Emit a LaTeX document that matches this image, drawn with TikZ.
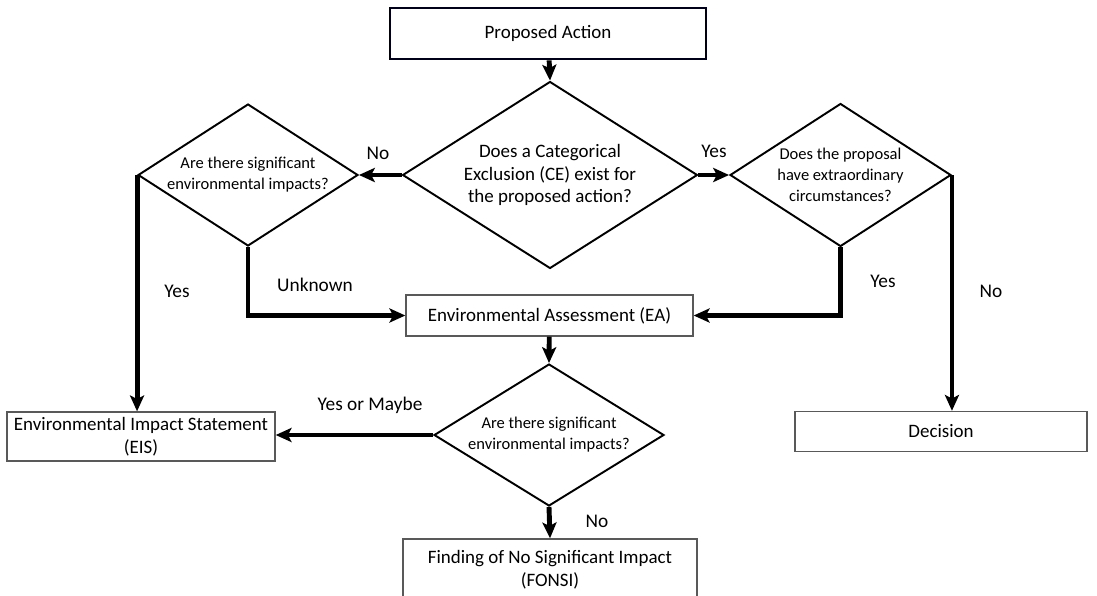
\documentclass[tikz,border=0pt]{standalone}
\usepackage{fontspec}
\setmainfont{Carlito}
\usetikzlibrary{shapes.geometric,arrows.meta}
\begin{document}
\begin{tikzpicture}[x=0.02cm,y=-0.02cm,
  box/.style={draw=black!65, line width=0.8pt, inner sep=0pt, align=center, font=\fontsize{10.8}{13}\selectfont},
  dia/.style={draw, diamond, line width=1.1pt, inner sep=0pt},
  bigtext/.style={align=center, inner sep=0pt, font=\fontsize{10.8}{12.8}\selectfont},
  smalltext/.style={align=center, inner sep=0pt, font=\fontsize{9.4}{12}\selectfont},
  conn/.style={line width=2.8pt, -{Stealth[length=9pt,width=8pt,inset=2pt]}},
  lbl/.style={inner sep=0pt, font=\fontsize{11}{13}\selectfont}]
\clip (0,0) rectangle (1097,595);
\fill[white] (0,0) rectangle (1097,595);

% boxes
\node[box, draw=black!90!blue, line width=1.6pt, minimum width=6.32cm, minimum height=1.02cm] (pa) at (548,33.5) {Proposed Action};
\node[box, minimum width=5.74cm, minimum height=0.82cm] (ea) at (549.5,315.5) {Environmental Assessment (EA)};
\node[box, minimum width=5.36cm, minimum height=0.98cm] (eis) at (141,436.5) {Environmental Impact Statement\\(EIS)};
\node[box, minimum width=5.84cm, minimum height=0.80cm] (dec) at (941,431.5) {Decision};
\node[box, minimum width=5.88cm, minimum height=1.24cm] (fonsi) at (550,570) {Finding of No Significant Impact\\(FONSI)};

% diamonds
\node[dia, minimum width=5.90cm, minimum height=3.74cm] (ce) at (550,175) {};
\node[bigtext] (cet) at (ce.center) {Does a Categorical\\Exclusion (CE) exist for\\the proposed action?};
\node[dia, minimum width=4.40cm, minimum height=2.84cm] (ls) at (248,175) {};
\node[smalltext] (lst) at (ls.center) {Are there significant\\environmental impacts?};
\node[dia, minimum width=4.42cm, minimum height=2.86cm] (ex) at (840.5,175) {};
\node[smalltext] (ext) at (ex.center) {Does the proposal\\have extraordinary\\circumstances?};
\node[dia, minimum width=4.60cm, minimum height=2.84cm] (lo) at (549,435) {};
\node[smalltext] (lot) at (lo.center) {Are there significant\\environmental impacts?};

% connectors
\draw[conn] (pa) -- (ce.north);
\draw[conn] (ce.west) -- (ls.east);
\draw[conn] (ce.east) -- (ex.west);
\draw[conn] (ls.south) |- (ea.west);
\draw[conn] (ex.south) |- (ea.east);
\draw[conn] (ls.west) -- (ls.west |- eis.north);
\draw[conn] (ex.east) -- (ex.east |- dec.north);
\draw[conn] (ea) -- (lo.north);
\draw[conn] (lo.west) -- (lo.west -| eis.east);
\draw[conn] (lo.south) -- (fonsi.north);

% labels
\node[lbl] (l1) at (378,153) {No};
\node[lbl] (l2) at (714,151) {Yes};
\node[lbl] (l3) at (315,285) {Unknown};
\node[lbl] (l4) at (883,281) {Yes};
\node[lbl] (l5) at (177,291) {Yes};
\node[lbl] (l6) at (991,291) {No};
\node[lbl] (l7) at (370,405) {Yes or Maybe};
\node[lbl] (l8) at (597,521) {No};
\end{tikzpicture}
\end{document}
